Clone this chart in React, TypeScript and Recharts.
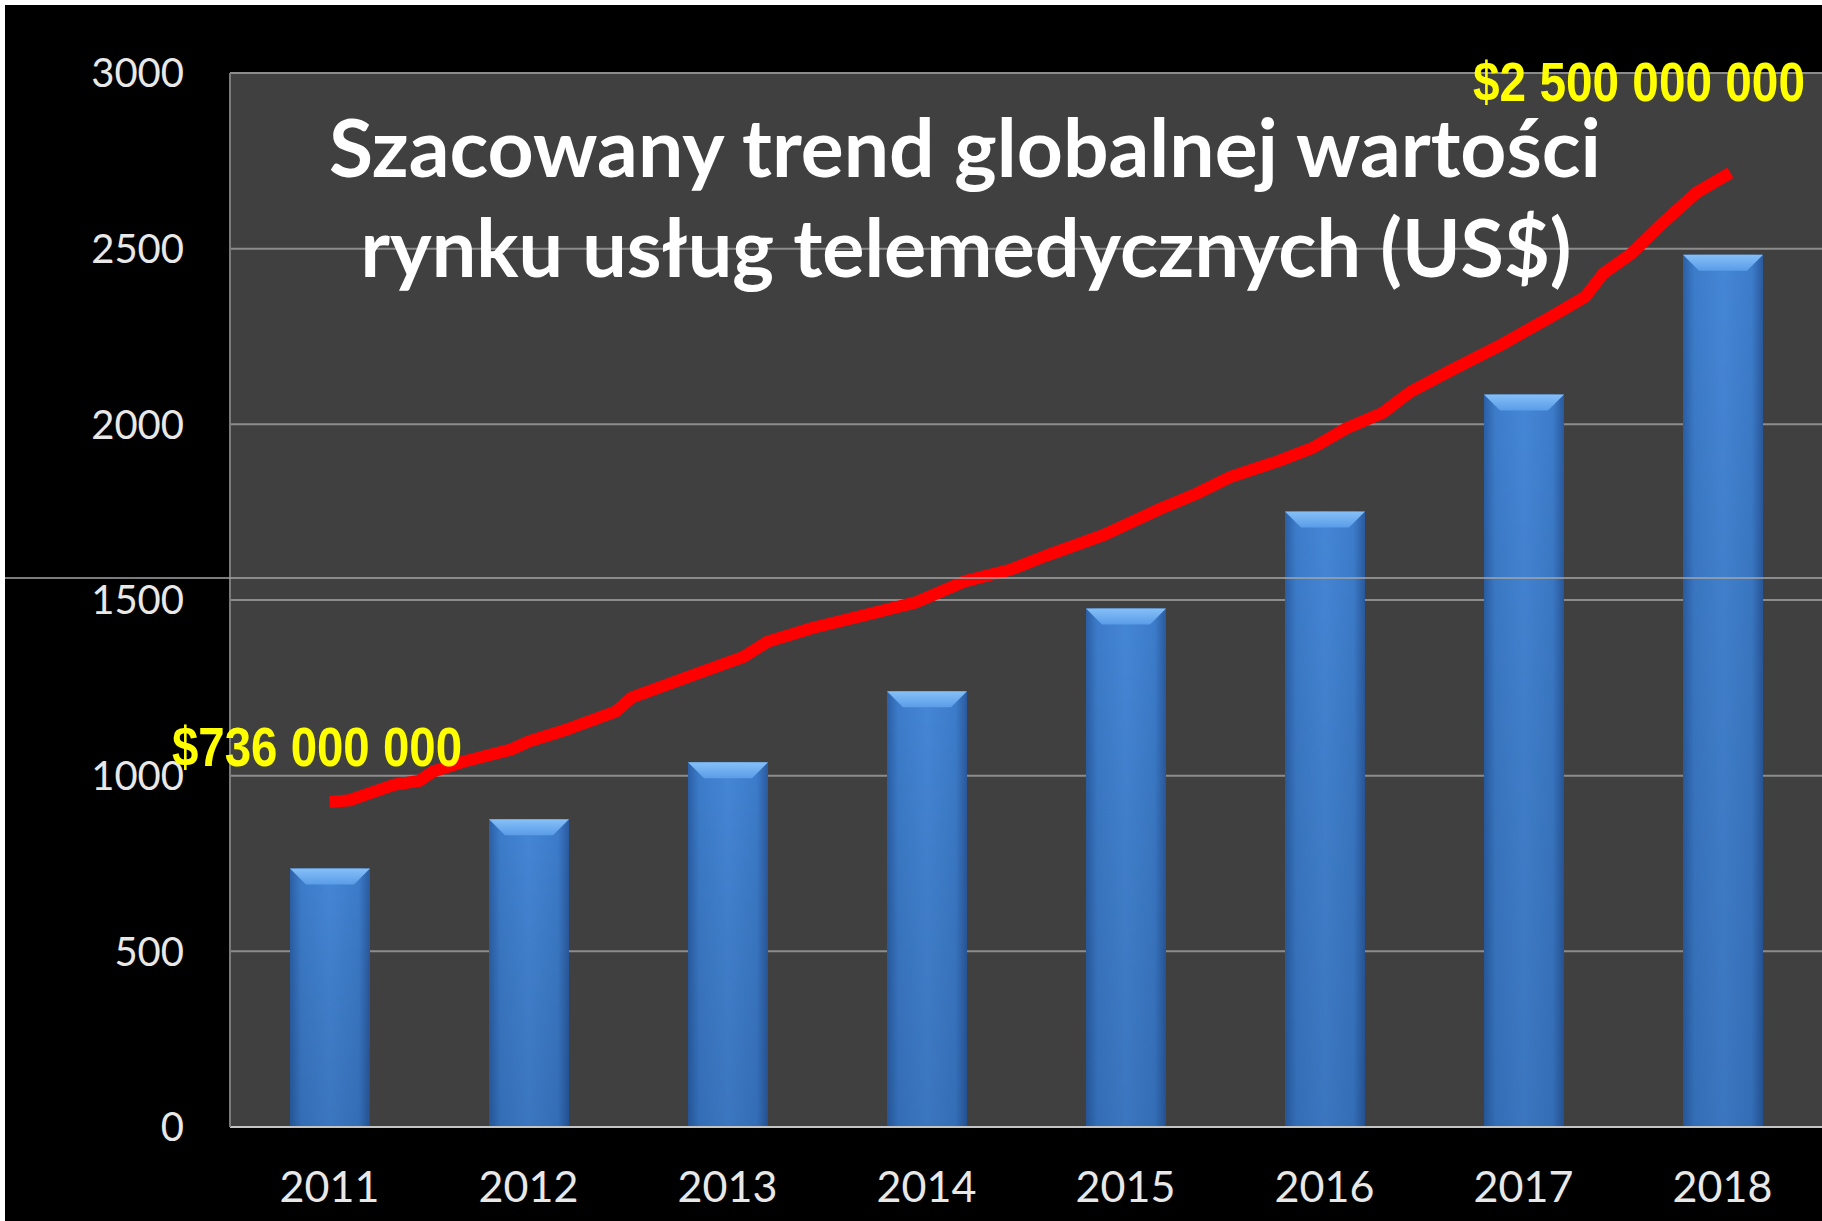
import React from 'react';
import { ComposedChart, Bar, Line, XAxis, YAxis, CartesianGrid } from 'recharts';

const years = ['2011', '2012', '2013', '2014', '2015', '2016', '2017', '2018'];
const marketValues = [736, 876, 1038, 1240, 1476, 1752, 2085, 2483];
const yTicks = [0, 500, 1000, 1500, 2000, 2500, 3000];

// hand drawn trend line, position along the years (0 = 2011) and height
const trendX = [0, 0.1, 0.33, 0.45, 0.52, 0.68, 0.91, 1.0, 1.2, 1.44, 1.52, 1.84, 2.08, 2.2, 2.43, 2.72, 2.95, 3.19, 3.42, 3.6, 3.89, 4.18, 4.35, 4.53, 4.76, 4.94, 5.11, 5.29, 5.43, 5.64, 5.87, 6.11, 6.31, 6.4, 6.54, 6.69, 6.87, 7.04];
const trendY = [925, 930, 975, 985, 1012, 1041, 1074, 1097, 1133, 1183, 1223, 1289, 1338, 1381, 1421, 1461, 1494, 1553, 1586, 1626, 1685, 1761, 1801, 1851, 1894, 1933, 1989, 2032, 2092, 2155, 2221, 2297, 2363, 2429, 2485, 2568, 2660, 2716];

const titleLines = ['Szacowany trend globalnej wartości', 'rynku usług telemedycznych (US$)'];
const startLabel = '$736 000 000';
const endLabel = '$2 500 000 000';

const W = 1822;
const H = 1221;

const barData = years.map((year, i) => ({ year, value: marketValues[i] }));
const trendData = trendX.map((x, i) => ({ x, v: trendY[i] }));

const BevelBar = (props: any) => {
    const { x, y, width, height } = props;
    if (!height || height <= 0) return null;
    const b = Math.min(16, height / 2);
    return (
        <g>
            <rect x={x} y={y} width={width} height={height} fill="url(#barSide)" />
            <rect x={x} y={y} width={width} height={height} fill="url(#barShade)" />
            <polygon
                points={`${x},${y} ${x + width},${y} ${x + width - b},${y + b} ${x + b},${y + b}`}
                fill="url(#barTop)"
            />
        </g>
    );
};

export default function App() {
    return (
        <div style={{ position: 'absolute', left: 0, top: 0, width: W, height: H, background: '#000', overflow: 'hidden' }}>
            <ComposedChart width={W} height={H} data={barData} margin={{ top: 73, right: 0, left: 0, bottom: 0 }}>
                <defs>
                    <linearGradient id="barSide" x1="0" y1="0" x2="1" y2="0">
                        <stop offset="0%" stopColor="#2b5fa6" />
                        <stop offset="14%" stopColor="#3c7cca" />
                        <stop offset="50%" stopColor="#4586d6" />
                        <stop offset="86%" stopColor="#3c7cca" />
                        <stop offset="100%" stopColor="#2a5a9e" />
                    </linearGradient>
                    <linearGradient id="barShade" x1="0" y1="0" x2="0" y2="1">
                        <stop offset="0%" stopColor="#000" stopOpacity={0} />
                        <stop offset="100%" stopColor="#001a40" stopOpacity={0.15} />
                    </linearGradient>
                    <linearGradient id="barTop" x1="0" y1="0" x2="0" y2="1">
                        <stop offset="0%" stopColor="#86c0f7" />
                        <stop offset="100%" stopColor="#5a9ce8" />
                    </linearGradient>
                </defs>
                <CartesianGrid vertical={false} fill="#404040" stroke="#8c8c8c" strokeWidth={2} />
                <XAxis
                    dataKey="year"
                    height={94}
                    tickLine={false}
                    tickSize={0}
                    tickMargin={44}
                    axisLine={{ stroke: '#c4c4c4', strokeWidth: 2 }}
                    tick={{ fill: '#e8e8e8', fontSize: 43, fontFamily: 'Lato' }}
                />
                <XAxis xAxisId="t" dataKey="x" type="number" domain={[-0.5, 7.5]} hide allowDataOverflow />
                <YAxis
                    width={230}
                    domain={[0, 3000]}
                    ticks={yTicks}
                    tickLine={false}
                    tickSize={0}
                    tickMargin={46}
                    axisLine={{ stroke: '#7a7a7a', strokeWidth: 2 }}
                    tick={{ fill: '#e8e8e8', fontSize: 40, fontFamily: 'Lato' }}
                />
                <Bar dataKey="value" barSize={80} shape={BevelBar} isAnimationActive={false} />
                <Line
                    xAxisId="t"
                    data={trendData}
                    dataKey="v"
                    type="linear"
                    stroke="#ff0000"
                    strokeWidth={12}
                    strokeLinejoin="round"
                    dot={false}
                    activeDot={false}
                    isAnimationActive={false}
                />
            </ComposedChart>
            <svg width={W} height={H} style={{ position: 'absolute', left: 0, top: 0, pointerEvents: 'none' }}>
                <line x1={5} x2={W} y1={578} y2={578} stroke="#a6a6a6" strokeWidth={1.5} />
                <text x={965} y={177} textAnchor="middle" fill="#ffffff" fontFamily="Lato" fontWeight={700} fontSize={80} textLength={1272} lengthAdjust="spacingAndGlyphs">{titleLines[0]}</text>
                <text x={966} y={277} textAnchor="middle" fill="#ffffff" fontFamily="Lato" fontWeight={700} fontSize={80} textLength={1211} lengthAdjust="spacingAndGlyphs">{titleLines[1]}</text>
                <text x={172} y={766} fill="#ffff00" fontFamily="Liberation Sans" fontWeight={700} fontSize={55} textLength={290} lengthAdjust="spacingAndGlyphs">{startLabel}</text>
                <text x={1473} y={101} fill="#ffff00" fontFamily="Liberation Sans" fontWeight={700} fontSize={55} textLength={332} lengthAdjust="spacingAndGlyphs">{endLabel}</text>
            </svg>
            <div style={{ position: 'absolute', left: 0, top: 0, width: W, height: 5, background: '#fff' }} />
            <div style={{ position: 'absolute', left: 0, top: 0, width: 5, height: H, background: '#fff' }} />
        </div>
    );
}
